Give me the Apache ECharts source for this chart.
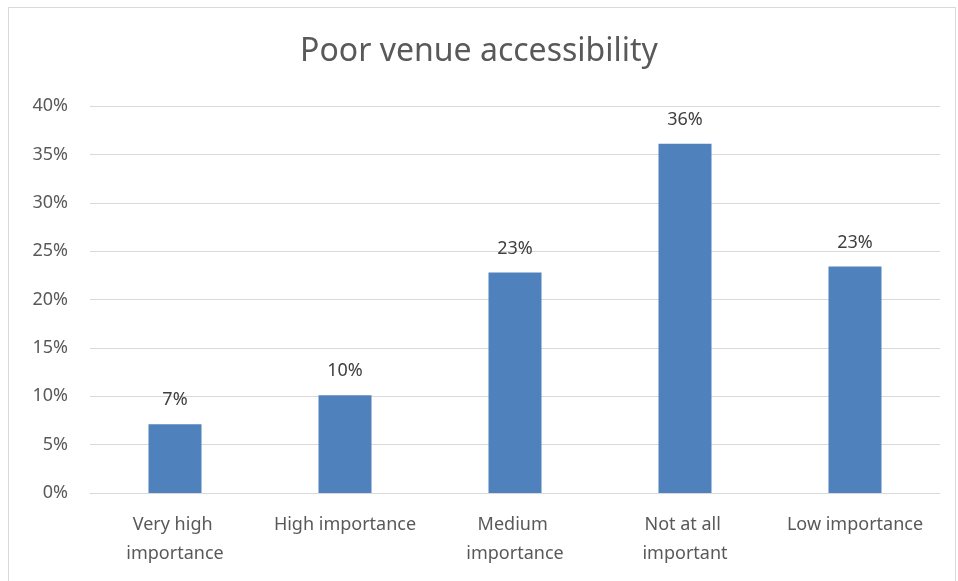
<!DOCTYPE html>
<html>
<head>
<meta charset="utf-8">
<script src="https://cdn.jsdelivr.net/npm/echarts@6/dist/echarts.min.js"></script>
<style>
  html, body { margin: 0; padding: 0; background: #fff; }
  #frame { position: absolute; left: 8px; top: 7px; width: 948px; height: 580px; border: 1px solid #d9d9d9; box-sizing: border-box; }
  #chart { width: 958px; height: 581px; }
</style>
</head>
<body>
<div id="frame"></div>
<div id="chart"></div>
<script>
// categories and values
var categories = ['Very high importance', 'High importance', 'Medium importance', 'Not at all important', 'Low importance'];
var values = [7.1, 10.1, 22.8, 36.1, 23.4];
var labels = ['7%', '10%', '23%', '36%', '23%'];

var myChart = echarts.init(document.getElementById('chart'));
var option = {
    title: {
        text: 'Poor venue accessibility',
        left: 'center',
        top: 31,
        textStyle: { fontFamily: 'Noto Sans', fontSize: 32, fontWeight: 'normal', color: '#595959' }
    },
    grid: { left: 90, right: 18, top: 106, bottom: 88 },
    xAxis: {
        type: 'category',
        data: categories,
        axisLine: { lineStyle: { color: '#d9d9d9' } },
        axisTick: { show: false },
        axisLabel: {
            interval: 0,
            margin: 17,
            width: 150,
            overflow: 'break',
            lineHeight: 29,
            fontFamily: 'Noto Sans',
            fontSize: 18,
            color: '#595959'
        }
    },
    yAxis: {
        type: 'value',
        min: 0,
        max: 40,
        interval: 5,
        axisLine: { show: false },
        axisTick: { show: false },
        splitLine: { lineStyle: { color: '#d9d9d9', width: 1 } },
        axisLabel: {
            margin: 22,
            formatter: '{value}%',
            fontFamily: 'Noto Sans',
            fontSize: 18,
            color: '#595959'
        }
    },
    series: [{
        type: 'bar',
        data: values,
        barWidth: 53,
        itemStyle: { color: '#4f81bd' },
        label: {
            show: true,
            position: 'top',
            distance: 15,
            formatter: function (p) { return labels[p.dataIndex]; },
            fontFamily: 'Noto Sans',
            fontSize: 18,
            color: '#404040'
        }
    }]
};
myChart.setOption(option, true);
</script>
</body>
</html>
